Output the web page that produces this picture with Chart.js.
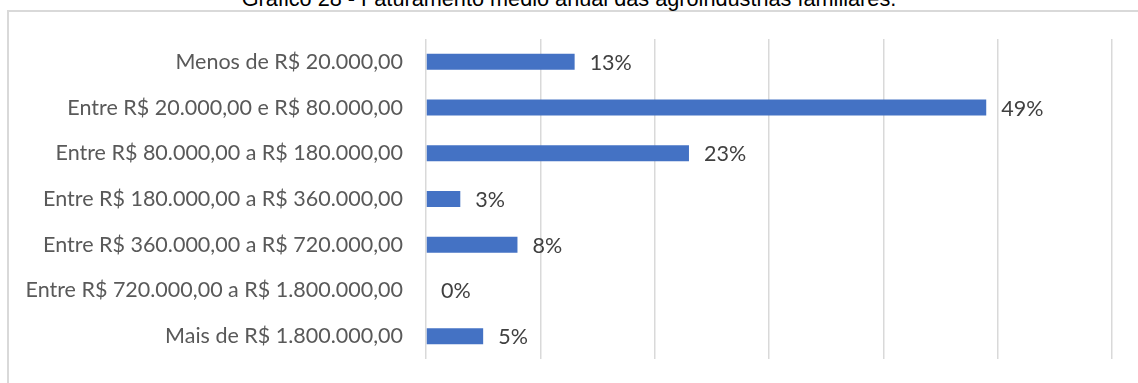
<!DOCTYPE html>
<html lang="pt-BR">
<head>
<meta charset="utf-8">
<script src="https://cdn.jsdelivr.net/npm/chart.js@4.4.1/dist/chart.umd.min.js"></script>
<style>
    html, body { margin: 0; padding: 0; background: #fff; overflow: hidden; }
    body { width: 1138px; height: 383px; position: relative; }
    #titulo {
        position: absolute; left: 0; width: 1138px; top: -12px;
        text-align: center; font-family: "Liberation Sans", Arial, sans-serif;
        font-size: 21.7px; line-height: 22px; color: #000; white-space: nowrap;
    }
    #moldura {
        position: absolute; left: 7px; top: 10px; width: 1200px; height: 400px;
        border: 2px solid #d9d9d9; box-sizing: border-box;
    }
    #area { position: absolute; left: 8px; top: 11px; width: 1130px; height: 372px; }
</style>
</head>
<body>
<div id="moldura"></div>
<div id="titulo">Gráfico 28 - Faturamento médio anual das agroindústrias familiares.</div>
<div id="area"><canvas id="faturamento"></canvas></div>
<script>
const FAIXAS = [
    "Menos de R$ 20.000,00",
    "Entre R$ 20.000,00 e R$ 80.000,00",
    "Entre R$ 80.000,00 a R$ 180.000,00",
    "Entre R$ 180.000,00 a R$ 360.000,00",
    "Entre R$ 360.000,00 a R$ 720.000,00",
    "Entre R$ 720.000,00 a R$ 1.800.000,00",
    "Mais de R$ 1.800.000,00"
];
const PERCENTUAIS = [13, 49, 23, 3, 8, 0, 5];
const EIXO_MAX = 60;
const EIXO_PASSO = 10;

const FONTE = "Lato, 'Open Sans', sans-serif";

// escreve o percentual ao lado de cada barra
const rotulosBarras = {
    id: 'rotulosBarras',
    afterDatasetsDraw(chart) {
        const ctx = chart.ctx;
        const meta = chart.getDatasetMeta(0);
        ctx.save();
        ctx.font = "21.5px " + FONTE;
        ctx.fillStyle = "#404040";
        ctx.textAlign = "left";
        ctx.textBaseline = "middle";
        meta.data.forEach((bar, i) => {
            ctx.fillText(PERCENTUAIS[i] + "%", bar.x + 15, bar.y + 1);
        });
        ctx.restore();
    }
};

function initChart() {
    const ctx = document.getElementById('faturamento').getContext('2d');
    new Chart(ctx, {
        type: 'bar',
        data: {
            labels: FAIXAS,
            datasets: [{
                data: PERCENTUAIS,
                backgroundColor: '#4472c4',
                borderWidth: 0,
                categoryPercentage: 1,
                barPercentage: 0.35
            }]
        },
        options: {
            indexAxis: 'y',
            responsive: true,
            maintainAspectRatio: false,
            animation: false,
            layout: { padding: { top: 28, bottom: 24, right: 26, left: 0 } },
            plugins: {
                legend: { display: false },
                tooltip: { enabled: false }
            },
            scales: {
                x: {
                    min: 0,
                    max: EIXO_MAX,
                    ticks: { display: false, stepSize: EIXO_PASSO },
                    grid: { color: '#d9d9d9', lineWidth: 1.5, drawTicks: false },
                    border: { display: false }
                },
                y: {
                    // largura fixa do eixo e sem folga extra em cima/embaixo
                    afterFit(scale) {
                        scale.width = 418;
                        scale.paddingTop = 0;
                        scale.paddingBottom = 0;
                    },
                    ticks: {
                        color: '#595959',
                        padding: 23,
                        font: { family: FONTE, size: 21.5 }
                    },
                    grid: { display: false, drawTicks: false },
                    border: { display: false }
                }
            }
        },
        plugins: [rotulosBarras]
    });
}

window.onload = () => {
    initChart();
};
</script>
</body>
</html>
